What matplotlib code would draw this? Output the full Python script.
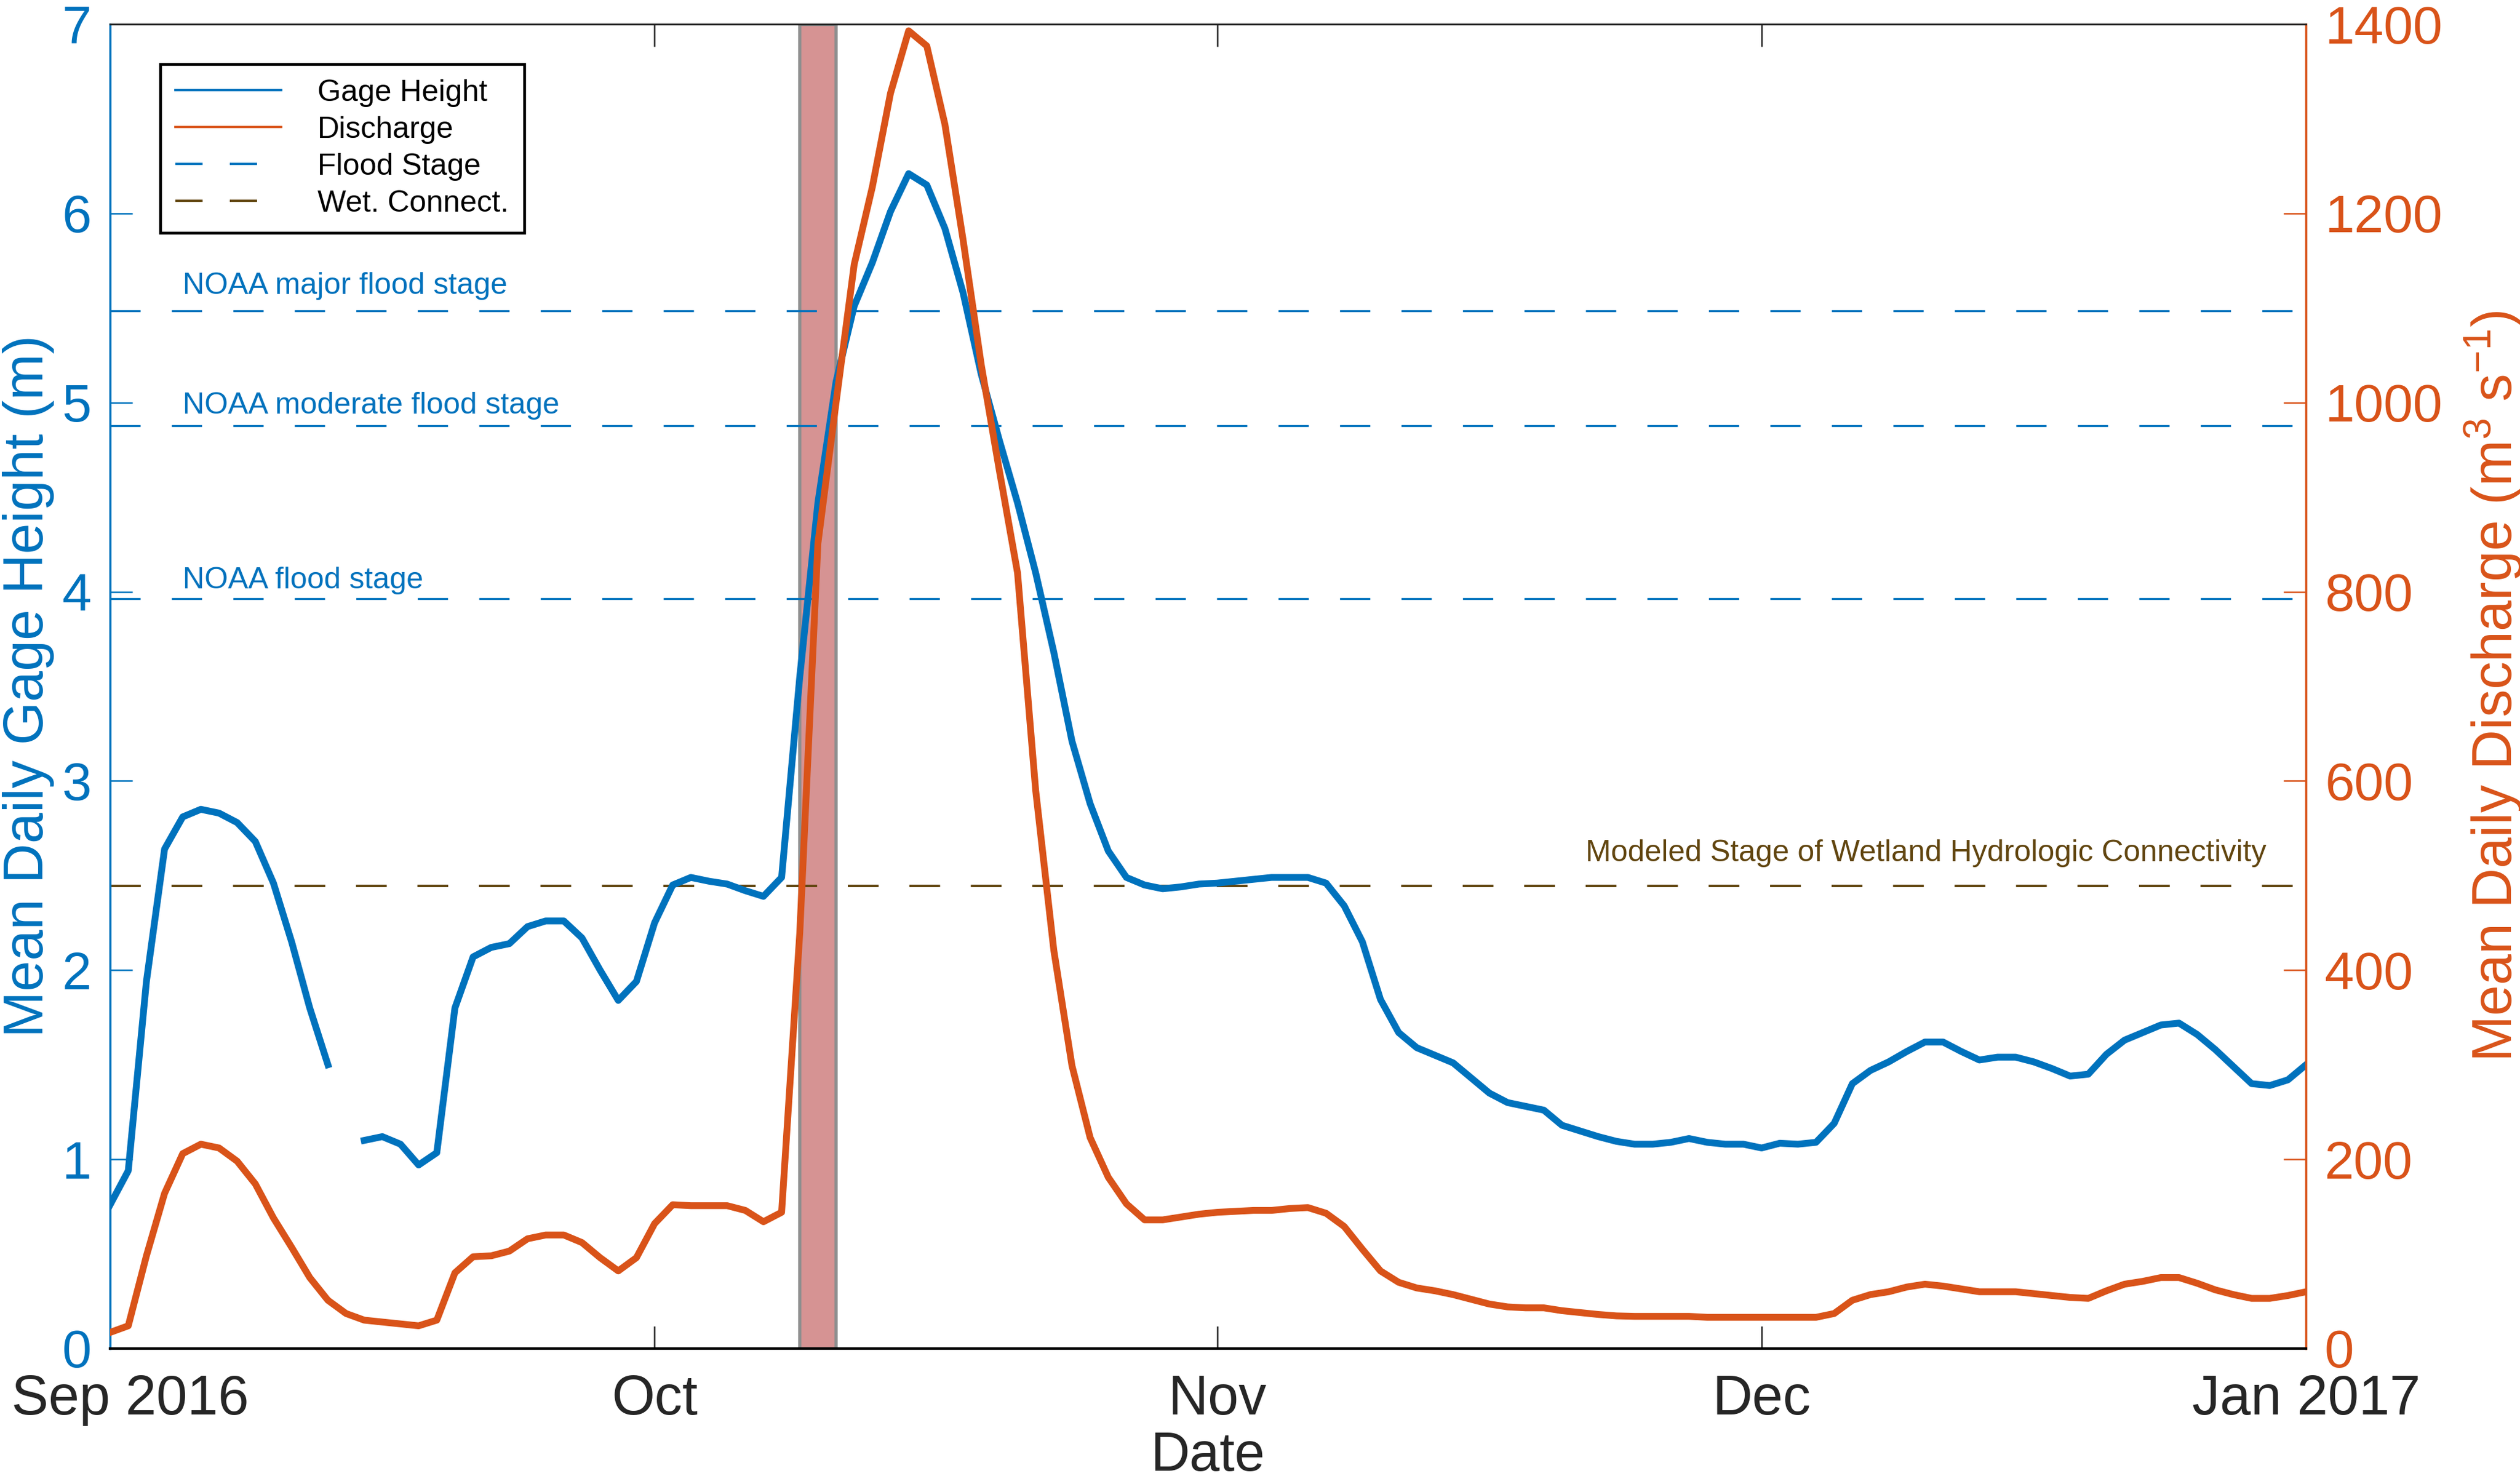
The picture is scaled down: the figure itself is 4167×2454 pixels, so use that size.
import numpy as np
import matplotlib
matplotlib.use('Agg')
import matplotlib.pyplot as plt
import matplotlib.dates as mdates
import matplotlib.transforms as mtransforms
from matplotlib.lines import Line2D

plt.rcParams['font.family'] = ['Liberation Sans', 'DejaVu Sans']
plt.rcParams['mathtext.fontset'] = 'custom'
plt.rcParams['mathtext.rm'] = 'Liberation Sans'
plt.rcParams['mathtext.default'] = 'regular'

# daily values, 1 Sep 2016 .. 31 Dec 2016
gage = [0.76, 0.94, 1.94, 2.64, 2.81, 2.85, 2.83, 2.78, 2.68, 2.46, 2.15, 1.80, 1.50,
        np.nan,
        1.10, 1.12, 1.08, 0.97, 1.035, 1.80, 2.07, 2.12, 2.14, 2.23, 2.26, 2.26, 2.17, 2.00,
        1.84, 1.94, 2.25, 2.45,
        2.49, 2.47, 2.455, 2.42, 2.39, 2.49, 3.55, 4.47, 5.11, 5.51, 5.74, 6.01, 6.21, 6.15,
        5.92, 5.58, 5.15, 4.80, 4.47, 4.10, 3.68, 3.21, 2.88, 2.63, 2.49, 2.45, 2.43, 2.44, 2.455,
        2.46, 2.47, 2.48, 2.49, 2.49, 2.49, 2.46, 2.34, 2.15, 1.845,
        1.67, 1.59, 1.55, 1.51, 1.43, 1.35, 1.30, 1.28, 1.26, 1.18,
        1.15, 1.12, 1.095, 1.08, 1.08, 1.09, 1.11, 1.09, 1.08, 1.08,
        1.06, 1.085, 1.08, 1.09, 1.19, 1.40, 1.47, 1.515, 1.57, 1.62,
        1.62, 1.57, 1.525, 1.54, 1.54, 1.515, 1.48, 1.44, 1.45, 1.555,
        1.63, 1.67, 1.71, 1.72, 1.66, 1.58, 1.49, 1.40, 1.39, 1.42, 1.50]

discharge = [17, 24, 98, 164, 206, 216, 212, 198, 174, 138, 107, 75, 51, 37, 30, 28, 26, 24,
             30, 80, 97, 98, 103, 116, 120, 120, 112, 96, 82, 96, 132, 152, 151,
             151, 151, 146, 134, 144, 439, 851, 1000, 1146, 1228, 1327, 1393, 1377, 1294,
             1172, 1040, 928, 820, 590, 421, 299, 223, 181, 153, 136, 136, 139, 142, 144,
             145, 146, 146, 148, 149, 143, 129, 105, 82,
             70, 64, 61, 57, 52, 47, 44, 43, 43, 40,
             38, 36, 34.5, 34, 34, 34, 34, 33, 33, 33,
             33, 33, 33, 33, 37, 51, 57, 60, 65, 68,
             66, 63, 60, 60, 60, 58, 56, 54, 53, 61,
             68, 71, 75, 75, 69, 62, 57, 53, 53, 56, 60]

dates = np.arange(np.datetime64('2016-09-01'), np.datetime64('2017-01-01'))

flood_levels = [5.4864, 4.8768, 3.9624]
flood_labels = ['NOAA major flood stage', 'NOAA moderate flood stage', 'NOAA flood stage']
flood_label_y = [5.573, 4.94, 4.018]
wet_level = 2.445
storm_start, storm_end = np.datetime64('2016-10-09'), np.datetime64('2016-10-11')

tick_dates = np.array(['2016-09-01', '2016-10-01', '2016-11-01', '2016-12-01', '2016-12-31'],
                      dtype='datetime64[D]')
tick_labels = ['Sep 2016', 'Oct', 'Nov', 'Dec', 'Jan 2017']

blue = '#0072BD'
orange = '#D95319'
brown = '#61450F'
dark = '#262626'

fig = plt.figure(figsize=(4167 / 300, 2454 / 300), dpi=300)
ax = fig.add_axes([0.0437, 0.0913, 0.8714, 0.8924])
ax2 = ax.twinx()

ax.axvspan(storm_start, storm_end, facecolor='#D69393', edgecolor='#8E8E8E', lw=1.3, zorder=1)

for lev in flood_levels:
    ax.axhline(lev, color=blue, lw=0.8, ls=(0, (15, 15.5)), zorder=2)
ax.axhline(wet_level, color=brown, lw=1.0, ls=(0, (12.2, 12.2)), zorder=2)

ax.plot(dates, gage, color=blue, lw=2.7, zorder=3)
ax2.plot(dates, discharge, color=orange, lw=2.7, zorder=3)

x_txt = mdates.date2num(np.datetime64('2016-09-05'))
for lab, yl in zip(flood_labels, flood_label_y):
    ax.text(x_txt, yl, lab, color=blue, fontsize=12, va='baseline', ha='left')
ax.text(mdates.date2num(np.datetime64('2016-12-28')) + 0.8, 2.575,
        'Modeled Stage of Wetland Hydrologic Connectivity',
        color=brown, fontsize=12, va='baseline', ha='right')

ax.set_xlim(dates[0], dates[-1])
ax.set_ylim(0, 7)
ax2.set_ylim(0, 1400)
ax.set_yticks(range(0, 8))
ax2.set_yticks(range(0, 1401, 200))
ax.set_xticks(tick_dates)
ax.set_xticklabels(tick_labels)

ax.tick_params(axis='x', direction='in', length=8.8, width=0.6, top=True, color=dark,
               labelcolor=dark, labelsize=22, pad=10)
ax.tick_params(axis='y', direction='in', length=8.8, width=0.6, color=blue,
               labelcolor=blue, labelsize=21, pad=7.4)
ax2.tick_params(axis='y', direction='in', length=8.8, width=0.6, color=orange,
                labelcolor=orange, labelsize=21, pad=7.4)

# first date label sits a little right of its tick, as in the source figure
first = ax.get_xticklabels()[0]
first.set_transform(first.get_transform() +
                    mtransforms.ScaledTranslation(8 / 72, 0, fig.dpi_scale_trans))

for a in (ax, ax2):
    a.spines['top'].set_color(dark)
    a.spines['top'].set_linewidth(0.7)
    a.spines['bottom'].set_color('black')
    a.spines['bottom'].set_linewidth(1.0)
    a.spines['left'].set_color(blue)
    a.spines['left'].set_linewidth(0.8)
    a.spines['right'].set_color(orange)
    a.spines['right'].set_linewidth(0.8)

ax.set_xlabel('Date', fontsize=21.5, color=dark, labelpad=2)
ax.set_ylabel('Mean Daily Gage Height (m)', fontsize=22, color=blue, labelpad=3)
ax2.set_ylabel('Mean Daily Discharge (m$^3$ s$^{-1}$)', fontsize=22, color=orange,
               rotation=90, labelpad=8)

handles = [Line2D([], [], color=blue, lw=0.9),
           Line2D([], [], color=orange, lw=0.9),
           Line2D([], [], color=blue, lw=0.9, ls=(0, (12, 12))),
           Line2D([], [], color=brown, lw=0.9, ls=(0, (12, 12)))]
leg = ax2.legend(handles, ['Gage Height', 'Discharge', 'Flood Stage', 'Wet. Connect.'],
                 loc='upper left', bbox_to_anchor=(0.0229, 0.970), borderaxespad=0,
                 fontsize=12, handlelength=3.5, handletextpad=1.2, labelspacing=0.3,
                 borderpad=0.5, fancybox=False, framealpha=1, edgecolor='black')
leg.get_frame().set_linewidth(1.1)

fig.savefig('out.png', dpi=300)
